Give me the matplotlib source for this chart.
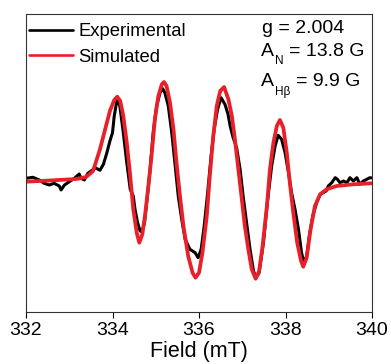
import matplotlib
matplotlib.use("Agg")
import matplotlib.pyplot as plt

# Field (mT) and signal (arbitrary units)
field_exp = [332.00, 332.16, 332.31, 332.42, 332.54, 332.65, 332.77, 332.81, 332.89, 333.00,
             333.12, 333.23, 333.27, 333.35, 333.43, 333.54, 333.60, 333.71, 333.79, 333.87,
             333.94, 334.00, 334.04, 334.10, 334.12, 334.17, 334.25, 334.33, 334.41, 334.48,
             334.52, 334.58, 334.64, 334.68, 334.74, 334.79, 334.87, 334.94, 335.02, 335.10,
             335.16, 335.21, 335.29, 335.37, 335.45, 335.52, 335.60, 335.68, 335.79, 335.91,
             335.98, 336.05, 336.12, 336.20, 336.28, 336.35, 336.43, 336.51, 336.60, 336.67,
             336.72, 336.79, 336.87, 336.95, 337.02, 337.10, 337.18, 337.26, 337.32, 337.39,
             337.49, 337.58, 337.68, 337.76, 337.83, 337.91, 337.99, 338.07, 338.14, 338.22,
             338.30, 338.37, 338.43, 338.49, 338.55, 338.63, 338.72, 338.80, 338.87, 338.94,
             338.99, 339.07, 339.15, 339.20, 339.26, 339.34, 339.42, 339.49, 339.57, 339.65,
             339.72, 339.80, 339.88, 339.95, 340.00]
signal_exp = [3.7, 4.7, 2.0, -1.3, -3.0, -1.3, -4.0, -8.0, -3.0, 0.3,
              3.7, 8.0, 3.7, 2.0, 8.7, 12.0, 14.3, 11.7, 17.7, 29.3,
              41.0, 49.3, 66.0, 81.0, 82.7, 76.0, 49.3, 19.3, -7.3, -14.0,
              -27.3, -40.7, -49.0, -50.0, -40.7, -20.7, 12.7, 49.3, 76.0, 89.3,
              93.3, 89.3, 76.0, 49.3, 16.0, -14.0, -37.3, -57.3, -67.3, -70.7,
              -75.7, -67.3, -44.0, -10.7, 26.0, 52.7, 72.7, 84.3, 77.7, 68.0,
              56.0, 44.3, 34.3, 12.7, -14.0, -40.7, -67.3, -89.0, -95.7, -90.7,
              -60.7, -20.7, 16.0, 36.0, 46.7, 42.7, 29.3, 9.3, -10.7, -27.3,
              -47.3, -70.7, -80.7, -74.0, -54.0, -34.0, -20.7, -12.3, -10.7, -9.0,
              -4.0, -0.7, 4.3, 2.7, -0.7, 1.0, -0.7, 4.3, 1.0, 4.3,
              -2.3, 1.0, 2.7, 4.3, 4.0]

field_sim = [332.00, 332.55, 333.16, 333.39, 333.55, 333.60, 333.71, 333.83, 333.94, 334.04,
             334.11, 334.18, 334.25, 334.33, 334.41, 334.48, 334.56, 334.62, 334.69, 334.75,
             334.83, 334.91, 334.98, 335.06, 335.14, 335.19, 335.25, 335.33, 335.41, 335.48,
             335.56, 335.64, 335.75, 335.85, 335.92, 336.00, 336.08, 336.18, 336.25, 336.33,
             336.41, 336.49, 336.58, 336.68, 336.76, 336.83, 336.91, 336.99, 337.06, 337.14,
             337.22, 337.31, 337.39, 337.47, 337.57, 337.64, 337.72, 337.80, 337.87, 337.95,
             338.03, 338.10, 338.18, 338.27, 338.36, 338.41, 338.49, 338.58, 338.68, 338.80,
             338.95, 339.18, 339.57, 340.00]
signal_sim = [0.3, 1.5, 3.0, 5.0, 11.0, 17.7, 32.7, 52.7, 71.0, 82.0,
              85.3, 81.0, 66.0, 39.3, 6.0, -27.3, -50.7, -60.7, -52.3, -34.0,
              -4.0, 29.3, 62.7, 86.0, 97.7, 100.0, 96.0, 79.3, 52.7, 19.3,
              -14.0, -44.0, -74.0, -90.7, -95.7, -90.7, -70.7, -34.0, 6.0, 46.0,
              76.0, 91.0, 95.0, 82.7, 66.0, 42.7, 12.7, -17.3, -44.0, -67.3,
              -87.3, -96.7, -89.0, -64.0, -24.0, 12.7, 39.3, 56.0, 62.0, 54.3,
              29.3, -0.7, -30.7, -60.7, -79.0, -84.7, -75.7, -47.3, -24.0, -12.3,
              -7.3, -4.0, -2.3, -1.3]

xticks = [332, 334, 336, 338, 340]
series_labels = ["Experimental", "Simulated"]

plt.rcParams['font.family'] = ['Liberation Sans', 'DejaVu Sans']

W, H = 391, 364
fig = plt.figure(figsize=(W / 100, H / 100), dpi=100)
ax = fig.add_axes([26 / W, 1 - 312 / H, (372 - 26) / W, (312 - 14) / H])

ax.plot(field_exp, signal_exp, color='black', lw=2.2, label=series_labels[0],
        solid_joinstyle='round', solid_capstyle='round')
ax.plot(field_sim, signal_sim, color='#e8202a', lw=2.7, label=series_labels[1],
        solid_joinstyle='round', solid_capstyle='round')

ax.set_xlim(332, 340)
ax.set_ylim(-130, 168)
ax.set_xticks(xticks)
ax.set_xticklabels([str(t) for t in xticks], fontsize=14)
ax.set_yticks([])
ax.tick_params(axis='x', direction='out', length=4, width=0.8, pad=3.5)
for s in ax.spines.values():
    s.set_linewidth(0.8)
    s.set_color('#333333')
ax.set_xlabel('Field (mT)', fontsize=15.5, labelpad=1)

leg = fig.legend(*ax.get_legend_handles_labels(), loc='upper left',
                 bbox_to_anchor=(29.5 / W, 1 - 23.5 / H), frameon=False, fontsize=13.3,
                 handlelength=2.35, handletextpad=0.3, labelspacing=0.45, borderaxespad=0,
                 borderpad=0)
for line in leg.get_lines():
    line.set_linewidth(1.9)

def ftext(x, y, s, size=14):
    fig.text(x / W, 1 - y / H, s, fontsize=size, va='baseline', ha='left')

ftext(261.5, 33, 'g = 2.004')
ftext(261, 55.7, 'A')
ftext(274.5, 64, 'N', size=8.5)
ftext(289, 55.7, '= 13.8 G')
ftext(261, 85.7, 'A')
ftext(275, 95.5, 'H\u03b2', size=8.5)
ftext(296.5, 85.7, '= 9.9 G')

fig.savefig('out.png', dpi=100)
